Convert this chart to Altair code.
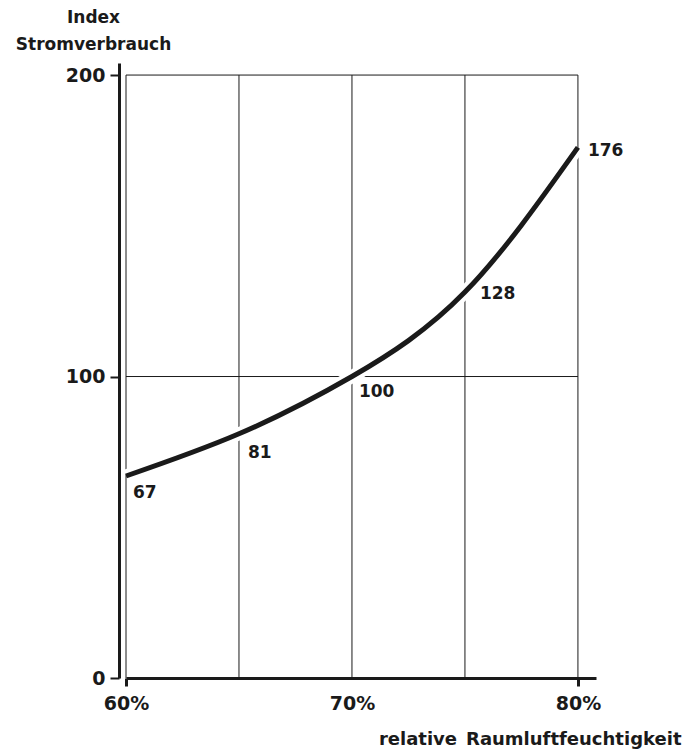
import altair as alt
import pandas as pd

# ---- data ----
humidity = [60, 65, 70, 75, 80]          # relative Raumluftfeuchtigkeit (%)
index_vals = [67, 81, 100, 128, 176]     # Index Stromverbrauch
grid_x = [60, 65, 70, 75, 80]
grid_y = [100, 200]
y_ticks = [0, 100, 200]
x_label_ticks = [60, 70, 80]

# label offsets (style only, pixels)
label_dx = [7, 9, 7, 15, 10]
label_dy = [17, 19, 15, 2, 4]

FONT = "DejaVu Sans"
INK = "#1a1a1a"

df = pd.DataFrame({"h": humidity, "v": index_vals})
gx = pd.DataFrame({"gx": grid_x})
gy = pd.DataFrame({"gy": grid_y})

xscale = alt.Scale(domain=[60, 80.8], nice=False, zero=False)
yscale = alt.Scale(domain=[0, 204], nice=False, zero=True)

x_axis = alt.Axis(
    values=x_label_ticks,
    labelExpr="datum.value + '%'",
    grid=False,
    domainColor=INK, domainWidth=3,
    tickColor=INK, tickWidth=3, tickSize=8,
    tickOpacity={"condition": {"test": "datum.value == 60 || datum.value == 80", "value": 1}, "value": 0},
    labelFont=FONT, labelFontSize=19, labelFontWeight="bold", labelColor=INK,
    labelPadding=8, labelFlush=False, labelOverlap=False,
    title="relative\u2002Raumluftfeuchtigkeit",
    titleFont=FONT, titleFontSize=18, titleFontWeight="bold", titleColor=INK,
    titleAlign="right", titleBaseline="middle", titleX=555, titleY=61, titleAnchor="end",
)

y_axis = alt.Axis(
    values=y_ticks,
    grid=False,
    offset=7,
    domainColor=INK, domainWidth=3,
    tickColor=INK, tickWidth=2, tickSize=9,
    labelFont=FONT, labelFontSize=19, labelFontWeight="bold", labelColor=INK,
    labelPadding=5, labelFlush=False, labelOverlap=False,
    title=["Index", "Stromverbrauch"],
    titleFont=FONT, titleFontSize=17, titleFontWeight="bold", titleColor=INK,
    titleAngle=0, titleAlign="center", titleBaseline="top",
    titleX=-26, titleY=-54, titleLineHeight=27,
)

vgrid = alt.Chart(gx).mark_rule(color=INK, strokeWidth=1).encode(
    x=alt.X("gx:Q", scale=xscale, axis=x_axis),
    y=alt.datum(0, scale=yscale, axis=y_axis),
    y2=alt.datum(200),
)

hgrid = alt.Chart(gy).mark_rule(color=INK, strokeWidth=1).encode(
    y=alt.Y("gy:Q", scale=yscale),
    x=alt.datum(60),
    x2=alt.datum(80),
)

halo = alt.Chart(df).mark_line(color="white", strokeWidth=13, interpolate="natural", strokeCap="butt").encode(
    x=alt.X("h:Q", scale=xscale),
    y=alt.Y("v:Q", scale=yscale),
)

curve = alt.Chart(df).mark_line(color=INK, strokeWidth=5, interpolate="natural", strokeCap="butt").encode(
    x=alt.X("h:Q", scale=xscale),
    y=alt.Y("v:Q", scale=yscale),
)

labels = []
for i in range(len(humidity)):
    sub = df.iloc[[i]]
    labels.append(
        alt.Chart(sub).mark_text(
            font=FONT, fontSize=17, fontWeight="bold", color=INK,
            align="left", baseline="middle", dx=label_dx[i], dy=label_dy[i],
        ).encode(
            x=alt.X("h:Q", scale=xscale),
            y=alt.Y("v:Q", scale=yscale),
            text=alt.Text("v:Q"),
        )
    )

chart = alt.layer(vgrid, hgrid, halo, curve, *labels).properties(
    width=470, height=615,
    padding={"left": 7, "top": 0, "right": 5, "bottom": 2},
    background="white",
).configure_view(stroke=None)

chart.save("out.html", embed_options={"renderer": "svg", "actions": False})
